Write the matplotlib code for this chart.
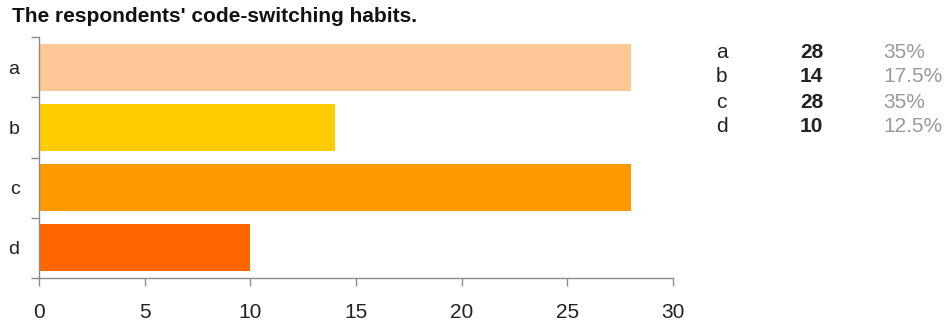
import matplotlib.pyplot as plt
import numpy as np

plt.rcParams['font.family'] = ['Liberation Sans', 'DejaVu Sans']

# survey answers
categories = ['a', 'b', 'c', 'd']
counts = [28, 14, 28, 10]
percents = ['35%', '17.5%', '35%', '12.5%']
colors = ['#fdc896', '#ffcc00', '#ff9900', '#ff6600']
axis_grey = '#8c8c8c'

fig = plt.figure(figsize=(9.49, 3.27), dpi=100)
ax = fig.add_axes([39 / 949, 1 - 278 / 327, (673 - 39) / 949, (278 - 37) / 327])

y = np.arange(len(categories))
ax.barh(y, counts, height=0.78, color=colors)
ax.set_ylim(len(categories) - 0.5, -0.5)
ax.set_xlim(0, 30)

# x axis: grey line with ticks hanging below
ax.set_xticks([0, 5, 10, 15, 20, 25, 30])
ax.tick_params(axis='x', length=6, width=1, color=axis_grey, labelsize=15,
               pad=12, labelcolor='#222222')
# y axis: ticks between categories, labels centred on the bars
ax.set_yticks(np.arange(len(categories) + 1) - 0.5)
ax.set_yticklabels([])
ax.set_yticks(y, minor=True)
ax.set_yticklabels(categories, minor=True)
ax.tick_params(axis='y', which='major', length=6, width=1, color=axis_grey)
ax.tick_params(axis='y', which='minor', length=0, labelsize=14, pad=14,
               labelcolor='#222222')

for side in ['top', 'right']:
    ax.spines[side].set_visible(False)
for side in ['left', 'bottom']:
    ax.spines[side].set_color(axis_grey)
    ax.spines[side].set_linewidth(1)

fig.text(12 / 949, 1 - 16 / 327, "The respondents' code-switching habits.",
         fontsize=15, fontweight='bold', va='center', ha='left', color='#111111')

# summary table on the right
for i, (c, n, p) in enumerate(zip(categories, counts, percents)):
    ty = 1 - (52 + 25 * i) / 327
    fig.text(716 / 949, ty, c, fontsize=15, va='center', ha='left', color='#222222')
    fig.text(800 / 949, ty, str(n), fontsize=15, fontweight='bold', va='center',
             ha='left', color='#222222')
    fig.text(883 / 949, ty, p, fontsize=15, va='center', ha='left', color='#999999')

fig.savefig('out.png', dpi=100)
